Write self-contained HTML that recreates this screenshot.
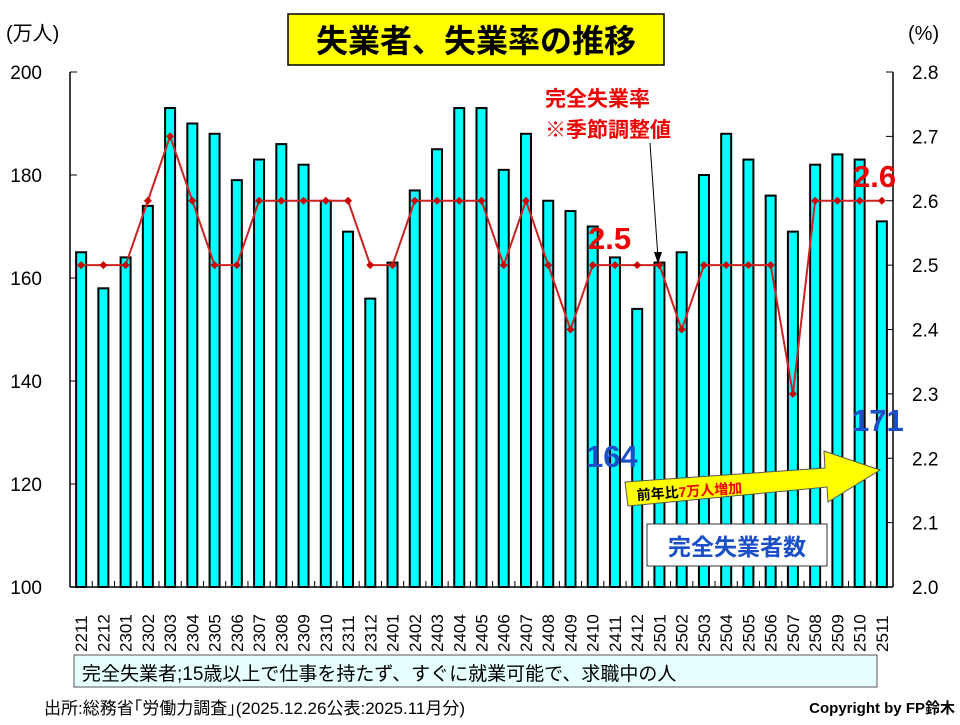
<!DOCTYPE html>
<html><head><meta charset="utf-8"><style>
body{margin:0;background:#fff;}
text{font-family:"Liberation Sans","Noto Sans CJK JP",sans-serif;}
</style></head><body>
<svg width="960" height="720" xmlns="http://www.w3.org/2000/svg">
<rect width="960" height="720" fill="#fff"/>
<rect x="288" y="14" width="376" height="51" fill="#ffff00" stroke="#000" stroke-width="1.5"/>
<text x="476" y="52" font-size="32" font-weight="bold" text-anchor="middle">失業者、失業率の推移</text>
<text x="6" y="40" font-size="20">(万人)</text>
<text x="908" y="40" font-size="20">(%)</text>
<g id="chart"></g>
<rect x="74" y="655" width="803" height="32" fill="#e6ffff" stroke="#555"/>
<text x="82" y="680" font-size="19">完全失業者;15歳以上で仕事を持たず、すぐに就業可能で、求職中の人</text>
<text x="44" y="714" font-size="17">出所:総務省｢労働力調査｣(2025.12.26公表:2025.11月分)</text>
<text x="955" y="713" font-size="15" font-weight="bold" text-anchor="end">Copyright by FP鈴木</text>
</svg>
<script>
const b=[165,158,164,174,193,190,188,179,183,186,182,175,169,156,163,177,185,193,193,181,188,175,173,170,164,154,163,165,180,188,183,176,169,182,184,183,171];
const r=[2.5,2.5,2.5,2.6,2.7,2.6,2.5,2.5,2.6,2.6,2.6,2.6,2.6,2.5,2.5,2.6,2.6,2.6,2.6,2.5,2.6,2.5,2.4,2.5,2.5,2.5,2.5,2.4,2.5,2.5,2.5,2.5,2.3,2.6,2.6,2.6,2.6];
const lab=[];for(let y=22;y<=25;y++)for(let m=1;m<=12;m++){const s=y*100+m;if(s>=2211&&s<=2511)lab.push(String(s));}
const L=70,R=893,T=72,B=587,w=(R-L)/37;
const Y=v=>B-(v-100)*5.15, Z=v=>B-(v-2)*643.75;
let s='';
for(let i=0;i<37;i++){const cx=L+(i+0.5)*w;s+=`<rect x="${cx-5}" y="${Y(b[i])}" width="10" height="${B-Y(b[i])}" fill="#00ffff" stroke="#000" stroke-width="2"/>`;
s+=`<text transform="translate(${cx+6},652) rotate(-90)" font-size="17">${lab[i]}</text>`;
s+=`<line x1="${L+i*w}" y1="${B}" x2="${L+i*w}" y2="${B-6}" stroke="#000"/>`;}
s+=`<line x1="${L}" y1="${T}" x2="${L}" y2="${B}" stroke="#000" stroke-width="1.5"/><line x1="${R}" y1="${T}" x2="${R}" y2="${B}" stroke="#000" stroke-width="1.5"/><line x1="${L}" y1="${B}" x2="${R}" y2="${B}" stroke="#000" stroke-width="1.5"/>`;
for(let v=100;v<=200;v+=20){s+=`<line x1="${L}" y1="${Y(v)}" x2="${L+7}" y2="${Y(v)}" stroke="#000"/><text x="42" y="${Y(v)+7}" font-size="19" text-anchor="end">${v}</text>`;}
for(let k=0;k<=8;k++){const v=2+k/10;s+=`<line x1="${R-7}" y1="${Z(v)}" x2="${R}" y2="${Z(v)}" stroke="#000"/><text x="912" y="${Z(v)+7}" font-size="19">${v.toFixed(1)}</text>`;}
let p=r.map((v,i)=>`${L+(i+0.5)*w},${Z(v)}`).join(' ');
s+=`<polyline points="${p}" fill="none" stroke="#cc2222" stroke-width="2"/>`;
r.forEach((v,i)=>{const x=L+(i+0.5)*w,y=Z(v);s+=`<polygon points="${x},${y-4} ${x+4},${y} ${x},${y+4} ${x-4},${y}" fill="#cc0000"/>`;});
s+=`<text x="545" y="106" font-size="21" font-weight="bold" fill="#ee0000">完全失業率</text><text x="545" y="137" font-size="21" font-weight="bold" fill="#ee0000">※季節調整値</text>`;
s+=`<line x1="650" y1="143" x2="658" y2="258" stroke="#000"/><polygon points="658,264 654,252 662,252" fill="#000"/>`;
s+=`<text x="588" y="249" font-size="31" font-weight="bold" fill="#ee0000">2.5</text><text x="853" y="187" font-size="31" font-weight="bold" fill="#ee0000">2.6</text>`;
s+=`<text x="586" y="467" font-size="31" font-weight="bold" fill="#1a4fc8">164</text><text x="852" y="431" font-size="31" font-weight="bold" fill="#1a4fc8">171</text>`;
s+=`<polygon points="625,482 825,468 824,451 880,470 828,502 827,487 628,506" fill="#ffff00" stroke="#555"/>`;
s+=`<text transform="translate(637,500) rotate(-4)" font-size="14" font-weight="bold">前年比<tspan fill="#ee0000">7万人増加</tspan></text>`;
s+=`<rect x="647" y="524" width="180" height="42" fill="#fff" stroke="#333"/><text x="737" y="555" font-size="23" font-weight="bold" fill="#1a4fc8" text-anchor="middle">完全失業者数</text>`;
document.getElementById('chart').innerHTML=s;
</script>
</body></html>
